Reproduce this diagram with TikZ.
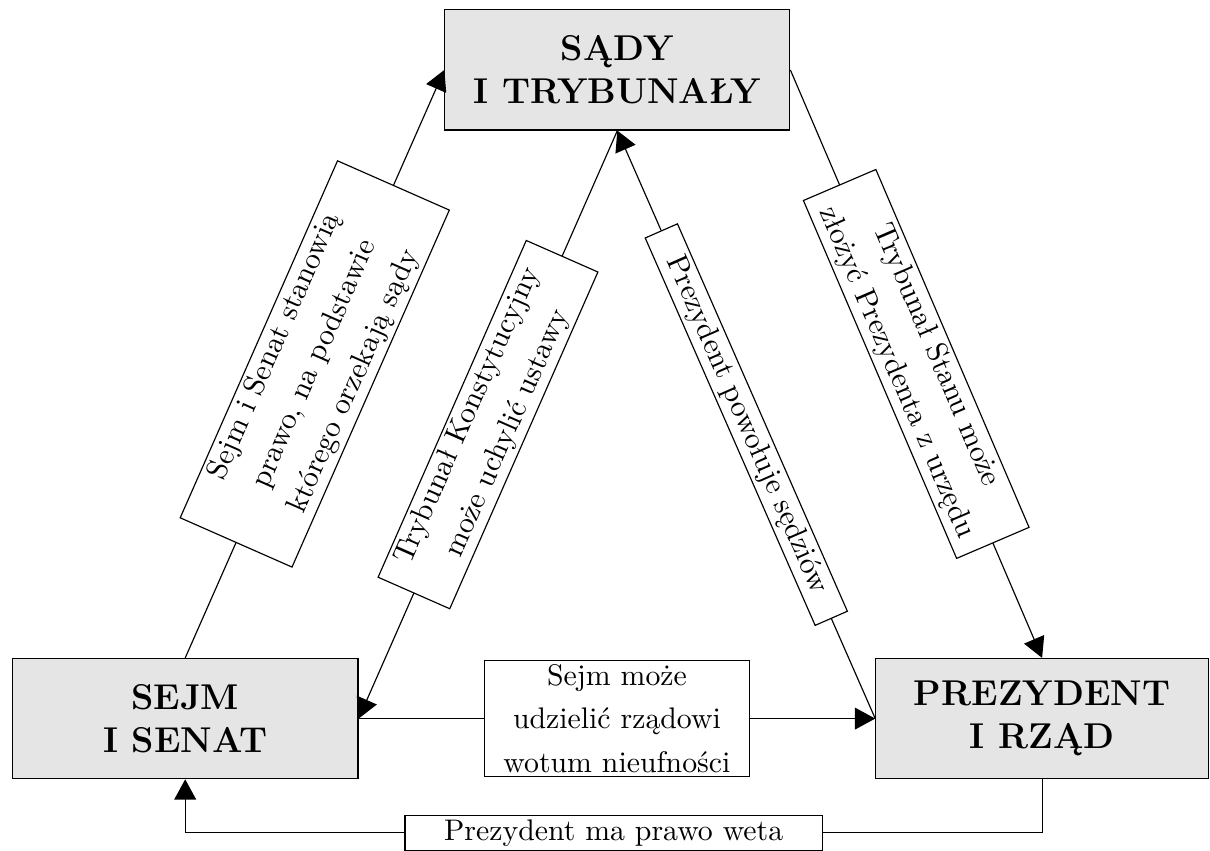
\documentclass[tikz,border=0pt]{standalone}
\usepackage{fontspec}
\usepackage{tikz}
\usetikzlibrary{arrows.meta}
\newfontfamily\opisfont{lmroman10-regular.otf}[WordSpace=1.4]

\begin{document}
\begin{tikzpicture}[
	blok/.style={draw, fill=gray!20, minimum height=1.46cm, align=center,
		font=\fontsize{12.4}{15}\selectfont\bfseries},
	opis/.style={draw, fill=white, inner xsep=1.7pt, inner ysep=1.4pt, align=center,
		font=\opisfont\fontsize{10.3}{15}\selectfont},
	>={Triangle[length=7pt,width=7.5pt]}]
	\useasboundingbox (0,0) rectangle (14.7,10.33);
	\node[blok, minimum width=4.19cm] (ST) at (7.5,9.48)
	{SĄDY\\I TRYBUNAŁY};%
	\node[blok, minimum width=4.2cm] (SS) at (2.25,1.6)
	{SEJM\\I SENAT};%
	\node[blok, minimum width=4.04cm] (PR) at (12.66,1.6)
	{PREZYDENT\\I RZĄD};
	
	\draw[->] (SS.north) -- (ST.west) node[midway,sloped,opis,text width=4.62cm]
	{Sejm i Senat stanowią\\prawo, na podstawie\\którego orzekają sądy};
	\draw[->] (ST.south) -- (SS.east) node[midway,sloped,opis,text width=4.35cm]
	{Trybunał Konstytucyjny\\może uchylić ustawy};
	\draw[->] (PR.west) -- (ST.south) node[midway,sloped,opis,text width=5.02cm]
	{Prezydent powołuje sędziów};
	\draw[->] (ST.east) -- (PR.north) node[midway,sloped,opis,text width=4.61cm]
	{Trybunał Stanu może\\złożyć Prezydenta z urzędu};
	\draw[->] (SS.east) -- (PR.west) node[midway,opis,text width=3.1cm]
	{Sejm może\\udzielić rządowi\\wotum nieufności};
	\draw[->] (PR.south) -- ++(0,-0.65) -| node[pos=0.25,opis,text width=4.95cm]
	{Prezydent ma prawo weta} (SS.south);
\end{tikzpicture}
\end{document}
